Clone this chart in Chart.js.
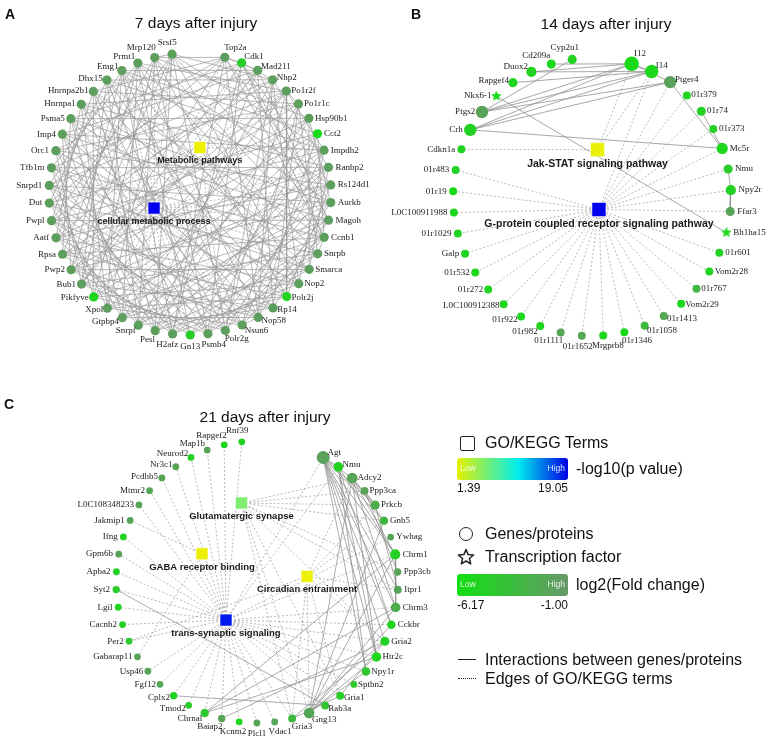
<!DOCTYPE html>
<html>
<head>
<meta charset="utf-8">
<script src="https://cdn.jsdelivr.net/npm/chart.js@4.4.1/dist/chart.umd.min.js"></script>
<style>
    html, body { margin: 0; padding: 0; background: #fff; }
    #wrap { position: relative; width: 767px; height: 737px; overflow: hidden;
            font-family: Arial, "Liberation Sans", sans-serif; color: #111; }
    #net { position: absolute; left: 0; top: 0; }
    .t { position: absolute; white-space: nowrap; line-height: 18px; font-size: 16px; }
    .title { position: absolute; white-space: nowrap; font-size: 15.5px; transform: translateX(-50%); }
    .letter { position: absolute; font-weight: bold; font-size: 14px; }
    .bar { position: absolute; width: 111px; height: 22px; border-radius: 3px; }
    .bar span { position: absolute; top: 5px; font-size: 8.5px; color: rgba(255,255,255,0.85); }
    .num { position: absolute; font-size: 12px; line-height: 14px; }
</style>
</head>
<body>
<div id="wrap">
    <canvas id="net" width="767" height="737"></canvas>

    <div class="letter" style="left:5px;top:6px;">A</div>
    <div class="letter" style="left:411px;top:6px;">B</div>
    <div class="letter" style="left:4px;top:396px;">C</div>

    <div class="title" style="left:196px;top:14px;">7 days after injury</div>
    <div class="title" style="left:606px;top:15px;">14 days after injury</div>
    <div class="title" style="left:265px;top:408px;">21 days after injury</div>

    <!-- legend -->
    <div style="position:absolute;left:460px;top:436px;width:13px;height:13px;border:1.6px solid #222;border-radius:2px;"></div>
    <div class="t" style="left:485px;top:434px;">GO/KEGG Terms</div>
    <div class="bar" style="left:457px;top:458px;background:linear-gradient(to right,#e6f000,#00eeee 55%,#0000e6);">
        <span style="left:3px;">Low</span><span style="right:3px;">High</span>
    </div>
    <div class="t" style="left:576px;top:460px;">-log10(p value)</div>
    <div class="num" style="left:457px;top:481px;">1.39</div>
    <div class="num" style="left:528px;top:481px;width:40px;text-align:right;">19.05</div>

    <div style="position:absolute;left:459px;top:527px;width:12px;height:12px;border:1.6px solid #222;border-radius:50%;"></div>
    <div class="t" style="left:485px;top:525px;">Genes/proteins</div>
    <svg style="position:absolute;left:457px;top:548px;" width="18" height="18" viewBox="0 0 18 18">
        <polygon points="9,1.5 11.1,6.6 16.6,7 12.4,10.5 13.7,15.9 9,13 4.3,15.9 5.6,10.5 1.4,7 6.9,6.6"
                 fill="none" stroke="#222" stroke-width="1.5" stroke-linejoin="round"/>
    </svg>
    <div class="t" style="left:485px;top:548px;">Transcription factor</div>
    <div class="bar" style="left:457px;top:574px;background:linear-gradient(to right,#10e010,#68986a);">
        <span style="left:3px;">Low</span><span style="right:3px;">High</span>
    </div>
    <div class="t" style="left:576px;top:576px;">log2(Fold change)</div>
    <div class="num" style="left:457px;top:598px;">-6.17</div>
    <div class="num" style="left:528px;top:598px;width:40px;text-align:right;">-1.00</div>

    <div style="position:absolute;left:458px;top:659px;width:18px;border-top:1.6px solid #222;"></div>
    <div class="t" style="left:485px;top:651px;">Interactions between genes/proteins</div>
    <div style="position:absolute;left:458px;top:678px;width:18px;border-top:1.6px dotted #222;"></div>
    <div class="t" style="left:485px;top:670px;">Edges of GO/KEGG terms</div>
</div>

<script>
// ---------------- data ----------------

// Panel A: 7 days (genes clockwise from the top gap)
const genesA = ['Top2a', 'Cdk1', 'Mad211', 'Nhp2', 'Po1r2f', 'Po1r1c', 'Hsp90b1', 'Cct2', 'Impdh2', 'Ranbp2',
    'Rs124d1', 'Aurkb', 'Magoh', 'Ccnb1', 'Snrpb', 'Smarca', 'Nop2', 'Polr2j', 'Rp14', 'Nop58',
    'Nsun6', 'Polr2g', 'Psmb4', 'Gn13', 'H2afz', 'Pesl', 'Snrpf', 'Gtpbp4', 'Xpol', 'Pikfyve',
    'Bub1', 'Pwp2', 'Rpsa', 'Aatf', 'Pwpl', 'Dut', 'Snrpd1', 'Tfb1m', 'Orc1', 'Imp4',
    'Psma5', 'Hnrnpa1', 'Hnrnpa2b1', 'Dhx15', 'Emg1', 'Prmt1', 'Mrp120', 'Srsf5'];
const fcA = [-1.4, -4.6, -1.5, -1.4, -1.5, -1.4, -1.5, -5.6, -1.5, -1.4,
    -1.4, -1.5, -1.4, -1.5, -1.4, -1.5, -1.4, -5.2, -1.5, -1.4,
    -1.5, -1.4, -1.5, -4.8, -1.4, -1.5, -1.5, -1.4, -1.5, -5.4,
    -1.4, -1.5, -1.4, -1.5, -1.4, -1.5, -1.4, -1.5, -1.4, -1.5,
    -1.4, -1.5, -1.4, -1.5, -1.4, -1.5, -1.4, -1.6];
const tfA = [];
// interactions, as "index:neighbour indices"
const ppiA = [
    '0:1,2,11,13,19,24,30,35,38,42,46', '1:3,10,12,13,22,24,30,36,40', '2:12,18,25,30,33,39,44',
    '3:9,16,19,21,26,34,37,43,47', '4:5,8,17,21,27,29,31,36,41,45', '5:14,18,20,25,32,38,42',
    '6:11,15,22,26,28,33,40,46', '7:13,19,23,27,31,35,44', '8:16,20,24,29,34,39,43,47',
    '9:15,21,25,28,32,37,41', '10:17,22,26,30,33,38,45', '11:19,23,27,31,36,40,44',
    '12:18,21,26,29,34,39,47', '13:14,20,24,28,32,37,42,46', '14:22,25,30,35,41,45',
    '15:23,27,31,36,40,43', '16:24,29,33,38,44,47', '17:25,28,32,37,42,46', '18:26,30,34,39,43',
    '19:20,27,31,35,41,45', '20:28,33,36,40,44', '21:29,34,38,42,47', '22:30,35,39,43,46',
    '23:31,36,41,45', '24:32,37,40,44', '25:33,38,42,47', '26:34,39,43,46', '27:35,40,45',
    '28:36,41,44,47', '29:37,42,46', '30:38,43,45', '31:39,44,47', '32:40,45', '33:41,46',
    '34:42,47', '35:43', '36:44', '37:45', '46:47'
];
const termsA = ['Metabolic pathways', 'cellular metabolic process'];
const termPA = [1.5, 19.05];
const termGenesA = [
    ['Po1r2f', 'Po1r1c', 'Impdh2', 'Polr2j', 'Polr2g', 'Dut', 'Pikfyve'],
    ['Top2a', 'Cdk1', 'Mad211', 'Nhp2', 'Hsp90b1', 'Ranbp2', 'Rs124d1', 'Aurkb', 'Magoh', 'Ccnb1',
     'Snrpb', 'Smarca', 'Nop2', 'Rp14', 'Nop58', 'Nsun6', 'Psmb4', 'Gn13', 'H2afz', 'Pesl',
     'Snrpf', 'Gtpbp4', 'Xpol', 'Bub1', 'Pwp2', 'Rpsa', 'Aatf', 'Pwpl', 'Snrpd1', 'Tfb1m',
     'Orc1', 'Imp4', 'Psma5', 'Hnrnpa1', 'Hnrnpa2b1', 'Dhx15', 'Emg1', 'Prmt1', 'Mrp120', 'Srsf5']
];

// Panel B: 14 days
const genesB = ['I12', 'I14', 'Ptger4', '01r379', '01r74', '01r373', 'Mc5r', 'Nmu', 'Npy2r', 'Ffar3',
    'Bh1ha15', '01r601', 'Vom2r28', '01r767', 'Vom2r29', '01r1413', '01r1058', '01r1346', 'Mrgprb8', '01r1652',
    '01r1111', '01r982', '01r922', 'L0C100912388', '01r272', '01r532', 'Galp', '01r1029', 'L0C100911988', '01r19',
    '01r483', 'Cdkn1a', 'Crh', 'Ptgs2', 'Nkx6-1', 'Rapgef4', 'Duox2', 'Cd209a', 'Cyp2u1'];
const fcB = [-5.6, -5.4, -1.6, -5.2, -5.0, -5.0, -5.3, -4.6, -5.0, -1.8,
    -5.5, -5.0, -5.2, -3.2, -5.4, -2.0, -3.4, -5.3, -5.4, -2.2,
    -2.0, -5.2, -5.4, -5.3, -5.2, -5.4, -5.2, -5.0, -5.3, -5.6,
    -5.0, -5.1, -5.0, -1.8, -5.6, -5.3, -5.2, -5.4, -5.0];
const tfB = ['Nkx6-1', 'Bh1ha15'];
const ppiB = [
    ['I12', 'I14'], ['I12', 'Ptgs2'], ['I12', 'Crh'], ['I12', 'Cd209a'], ['I12', 'Duox2'], ['I12', 'Ptger4'],
    ['I14', 'Ptgs2'], ['I14', 'Rapgef4'], ['I14', 'Crh'], ['I14', 'Duox2'],
    ['Ptger4', 'Ptgs2'], ['Ptger4', 'Crh'], ['Ptger4', 'Mc5r'], ['Mc5r', 'Crh'], ['01r74', 'Mc5r'],
    ['Nmu', 'Npy2r'], ['Npy2r', 'Ffar3'], ['Cyp2u1', 'Ptgs2'], ['Nkx6-1', 'Bh1ha15']
];
const termsB = ['Jak-STAT signaling pathway', 'G-protein coupled receptor signaling pathway'];
const termPB = [1.6, 19.0];
const termGenesB = [
    ['Cdkn1a', 'I12', 'I14'],
    ['I14', 'Ptger4', '01r379', '01r74', '01r373', 'Mc5r', 'Nmu', 'Npy2r', 'Ffar3', '01r601', 'Vom2r28',
     '01r767', 'Vom2r29', '01r1413', '01r1058', '01r1346', 'Mrgprb8', '01r1652', '01r1111', '01r982',
     '01r922', 'L0C100912388', '01r272', '01r532', 'Galp', '01r1029', 'L0C100911988', '01r19', '01r483']
];

// Panel C: 21 days
const genesC = ['Agt', 'Nmu', 'Adcy2', 'Ppp3ca', 'Prkcb', 'Gnb5', 'Ywhag', 'Chrm1', 'Ppp3cb', 'Itpr1',
    'Chrm3', 'Cckbr', 'Gria2', 'Htr2c', 'Npy1r', 'Sptbn2', 'Gria1', 'Rab3a', 'Gng13', 'Gria3',
    'Vdac1', 'Plcl1', 'Kcnm2', 'Baiap2', 'Chrnal', 'Tmod2', 'Cplx2', 'Fgf12', 'Usp46', 'Gabarap11',
    'Per2', 'Cacnb2', 'Lgil', 'Syt2', 'Apba2', 'Gpm6b', 'Ifng', 'Jakmip1', 'L0C108348233', 'Mtmr2',
    'Pcdhb5', 'Nr3c1', 'Neurod2', 'Map1b', 'Rapgef2', 'Rnf39'];
const fcC = [-1.6, -5.0, -1.8, -1.8, -2.4, -3.2, -1.8, -5.0, -1.8, -1.8,
    -2.4, -5.2, -5.0, -5.4, -4.2, -4.4, -4.8, -4.0, -2.0, -3.4,
    -1.8, -1.8, -5.4, -1.8, -4.4, -4.6, -5.0, -2.2, -1.8, -1.8,
    -4.4, -5.0, -5.2, -4.6, -5.0, -1.8, -5.0, -1.8, -2.0, -2.0,
    -2.0, -1.8, -5.0, -1.8, -5.2, -5.0];
const tfC = [];
const ppiC = [
    ['Agt', 'Nmu'], ['Agt', 'Adcy2'], ['Agt', 'Prkcb'], ['Agt', 'Chrm1'], ['Agt', 'Chrm3'], ['Agt', 'Cckbr'],
    ['Agt', 'Htr2c'], ['Agt', 'Npy1r'], ['Agt', 'Gria2'], ['Agt', 'Itpr1'], ['Agt', 'Gnb5'],
    ['Nmu', 'Npy1r'], ['Nmu', 'Cckbr'], ['Nmu', 'Chrm1'], ['Nmu', 'Htr2c'],
    ['Adcy2', 'Gnb5'], ['Adcy2', 'Prkcb'], ['Adcy2', 'Chrm1'], ['Adcy2', 'Chrm3'], ['Adcy2', 'Gng13'], ['Adcy2', 'Htr2c'],
    ['Gnb5', 'Gng13'], ['Prkcb', 'Ppp3ca'], ['Prkcb', 'Itpr1'], ['Ppp3ca', 'Ppp3cb'],
    ['Chrm1', 'Chrm3'], ['Chrm1', 'Gng13'], ['Chrm3', 'Gng13'], ['Htr2c', 'Gng13'], ['Npy1r', 'Gng13'], ['Cckbr', 'Gng13'],
    ['Gria1', 'Gria2'], ['Gria1', 'Gria3'], ['Gria2', 'Gria3'],
    ['Syt2', 'Rab3a'], ['Cplx2', 'Rab3a'], ['Chrnal', 'Chrm1'], ['Chrnal', 'Chrm3'], ['Chrnal', 'Htr2c'], ['Baiap2', 'Gria2']
];
const termsC = ['Glutamatergic synapse', 'GABA receptor binding', 'Circadian entrainment', 'trans-synaptic signaling'];
const termPC = [5.6, 1.5, 1.6, 18.2];
const termGenesC = [
    ['Adcy2', 'Ppp3ca', 'Prkcb', 'Gnb5', 'Ppp3cb', 'Itpr1', 'Gria1', 'Gria2', 'Gria3', 'Gng13'],
    ['Jakmip1', 'Gabarap11'],
    ['Per2', 'Adcy2', 'Prkcb', 'Gnb5', 'Gng13', 'Itpr1', 'Gria1', 'Gria2', 'Gria3'],
    ['Rnf39', 'Rapgef2', 'Map1b', 'Neurod2', 'Nr3c1', 'Pcdhb5', 'Mtmr2', 'L0C108348233', 'Ifng', 'Gpm6b',
     'Apba2', 'Syt2', 'Lgil', 'Cacnb2', 'Per2', 'Usp46', 'Fgf12', 'Cplx2', 'Tmod2', 'Chrnal', 'Baiap2',
     'Kcnm2', 'Plcl1', 'Vdac1', 'Gria3', 'Rab3a', 'Gria1', 'Sptbn2', 'Npy1r', 'Htr2c', 'Gria2', 'Cckbr',
     'Chrm3', 'Chrm1', 'Ywhag', 'Agt', 'Nmu']
];

// colour scales of the legend
const FC_MIN = -6.17, FC_MAX = -1.00;
const P_MIN = 1.39, P_MAX = 19.05;

// ---------------- layout (page pixels) ----------------
const panels = [
    {
        genes: genesA, fc: fcA, tf: tfA, ppi: parseIndexEdges(ppiA, genesA),
        terms: termsA, termP: termPA, termGenes: termGenesA,
        ring: { cx: 190, cy: 194, r: 141, start: 14.3, gap: 21.6 },
        termAt: [[0.07, -0.33], [-0.255, 0.10]],
        termRadius: 8.5, termFont: 9, nodeBase: 4.6, nodeStep: 0, nodeMax: 4.6,
        edgeColor: 'rgba(150,150,150,0.75)'
    },
    {
        genes: genesB, fc: fcB, tf: tfB, ppi: ppiB,
        terms: termsB, termP: termPB, termGenes: termGenesB,
        ring: { cx: 592, cy: 197, r: 139, start: 16.6, gap: 24.8 },
        termAt: [[0.04, -0.34], [0.05, 0.09]],
        termRadius: 10, termFont: 10.5, nodeBase: 4, nodeStep: 0.55, nodeMax: 7.5,
        edgeColor: 'rgba(140,140,140,0.85)'
    },
    {
        genes: genesC, fc: fcC, tf: tfC, ppi: ppiC,
        terms: termsC, termP: termPC, termGenes: termGenesC,
        ring: { cx: 257, cy: 582, r: 141, start: 28, gap: 34.2 },
        termAt: [[-0.11, -0.56], [-0.39, -0.20], [0.355, -0.04], [-0.22, 0.27]],
        termRadius: 8.5, termFont: 9.5, nodeBase: 3.4, nodeStep: 0.28, nodeMax: 6.6,
        edgeColor: 'rgba(140,140,140,0.8)'
    }
];

function parseIndexEdges(list, names) {
    const out = [];
    list.forEach(s => {
        const [a, rest] = s.split(':');
        rest.split(',').forEach(b => out.push([names[+a], names[+b]]));
    });
    return out;
}

function mix(a, b, t) {
    return a.map((v, i) => Math.round(v + (b[i] - v) * t));
}

function fcColor(v) {
    const t = Math.min(1, Math.max(0, (v - FC_MIN) / (FC_MAX - FC_MIN)));
    const c = mix([16, 226, 16], [100, 152, 100], t);
    return `rgb(${c[0]},${c[1]},${c[2]})`;
}

function pColor(v) {
    const t = Math.min(1, Math.max(0, (v - P_MIN) / (P_MAX - P_MIN)));
    const c = t < 0.5 ? mix([240, 240, 0], [0, 238, 238], t / 0.5) : mix([0, 238, 238], [0, 0, 238], (t - 0.5) / 0.5);
    return `rgb(${c[0]},${c[1]},${c[2]})`;
}

function starImage(color, r) {
    const s = Math.ceil(r * 2 + 2);
    const c = document.createElement('canvas');
    c.width = s;
    c.height = s;
    const g = c.getContext('2d');
    g.beginPath();
    for (let k = 0; k < 10; k++) {
        const rr = k % 2 ? r * 0.45 : r;
        const a = -Math.PI / 2 + k * Math.PI / 5;
        g.lineTo(s / 2 + rr * Math.cos(a), s / 2 + rr * Math.sin(a));
    }
    g.closePath();
    g.fillStyle = color;
    g.fill();
    return c;
}

function ringPos(ring, i, n) {
    const step = (360 - ring.gap) / (n - 1);
    const a = (ring.start + i * step) * Math.PI / 180;
    const dx = Math.sin(a), dy = -Math.cos(a);
    return { x: ring.cx + ring.r * dx, y: ring.cy + ring.r * dy, dx: dx, dy: dy };
}

const GAP = { x: NaN, y: NaN };
const datasets = [];
const labels = [];

panels.forEach(p => {
    const pos = {};
    p.genes.forEach((g, i) => { pos[g] = ringPos(p.ring, i, p.genes.length); });
    p.terms.forEach((t, i) => {
        pos[t] = { x: p.ring.cx + p.termAt[i][0] * p.ring.r, y: p.ring.cy + p.termAt[i][1] * p.ring.r };
    });

    // node size follows the number of interactions
    const degree = {};
    p.ppi.forEach(([a, b]) => { degree[a] = (degree[a] || 0) + 1; degree[b] = (degree[b] || 0) + 1; });
    const radius = p.genes.map(g => Math.min(p.nodeMax, p.nodeBase + p.nodeStep * (degree[g] || 0)));
    const colors = p.genes.map((g, i) => fcColor(p.fc[i]));

    const termEdges = [];
    p.terms.forEach((t, i) => {
        p.termGenes[i].forEach(g => termEdges.push({ x: pos[t].x, y: pos[t].y }, { x: pos[g].x, y: pos[g].y }, GAP));
    });
    const ppiEdges = [];
    p.ppi.forEach(([a, b]) => ppiEdges.push({ x: pos[a].x, y: pos[a].y }, { x: pos[b].x, y: pos[b].y }, GAP));

    datasets.push({
        label: 'term edges', data: termEdges, showLine: true, spanGaps: false, pointRadius: 0,
        borderColor: 'rgba(120,120,120,0.75)', borderWidth: 0.7, borderDash: [2, 2], order: 4
    });
    datasets.push({
        label: 'interactions', data: ppiEdges, showLine: true, spanGaps: false, pointRadius: 0,
        borderColor: p.edgeColor, borderWidth: 0.9, order: 3
    });
    datasets.push({
        label: 'genes',
        data: p.genes.map(g => ({ x: pos[g].x, y: pos[g].y })),
        pointRadius: radius,
        pointStyle: p.genes.map((g, i) => p.tf.includes(g) ? starImage(colors[i], radius[i] * 1.25) : 'circle'),
        backgroundColor: colors,
        borderWidth: 0,
        order: 2
    });
    datasets.push({
        label: 'terms',
        data: p.terms.map(t => ({ x: pos[t].x, y: pos[t].y })),
        pointRadius: p.termRadius,
        pointStyle: 'rect',
        backgroundColor: p.termP.map(pColor),
        borderColor: 'rgba(255,255,255,0.6)',
        borderWidth: 1,
        order: 1
    });

    p.genes.forEach((g, i) => {
        const q = pos[g];
        labels.push({
            text: g, x: q.x, y: q.y, dx: q.dx, dy: q.dy, r: radius[i],
            font: '9px "Liberation Serif", "Times New Roman", serif', color: '#222'
        });
    });
    p.terms.forEach(t => {
        labels.push({
            text: t, x: pos[t].x, y: pos[t].y, dx: 0, dy: 0, r: p.termRadius * 0.75 + 7, term: true,
            font: `bold ${p.termFont}px Arial, "Liberation Sans", sans-serif`, color: '#1a1a1a'
        });
    });
});

// gene labels slide round the node with the direction it faces:
// beside it on the flanks, above or below it near the top and bottom
const labelPlugin = {
    id: 'nodeLabels',
    afterDatasetsDraw(chart) {
        const ctx = chart.ctx;
        const xs = chart.scales.x, ys = chart.scales.y;
        ctx.save();
        ctx.textAlign = 'left';
        ctx.textBaseline = 'middle';
        labels.forEach(l => {
            ctx.font = l.font;
            ctx.fillStyle = l.color;
            const w = ctx.measureText(l.text).width;
            const nx = xs.getPixelForValue(l.x), ny = ys.getPixelForValue(l.y);
            let px, py;
            if (l.term) {
                px = nx - w / 2;
                py = ny + l.r;
            } else {
                const fx = Math.min(1, Math.max(0, 0.5 - 1.6 * l.dx));
                const lift = Math.pow(Math.abs(l.dy), 9) * (l.r + 8) * (l.dy > 0 ? 0.9 : 1);
                px = nx + l.dx * (l.r + 2.5) - w * fx;
                py = ny + Math.sign(l.dy) * lift;
            }
            ctx.fillText(l.text, px, py);
        });
        ctx.restore();
    }
};

new Chart(document.getElementById('net').getContext('2d'), {
    type: 'scatter',
    data: { datasets: datasets },
    options: {
        responsive: false,
        animation: false,
        events: [],
        layout: { padding: 0, autoPadding: false },
        plugins: { legend: { display: false }, tooltip: { enabled: false } },
        scales: {
            x: { type: 'linear', min: 0, max: 767, display: false },
            y: { type: 'linear', min: 0, max: 737, reverse: true, display: false }
        }
    },
    plugins: [labelPlugin]
});
</script>
</body>
</html>
